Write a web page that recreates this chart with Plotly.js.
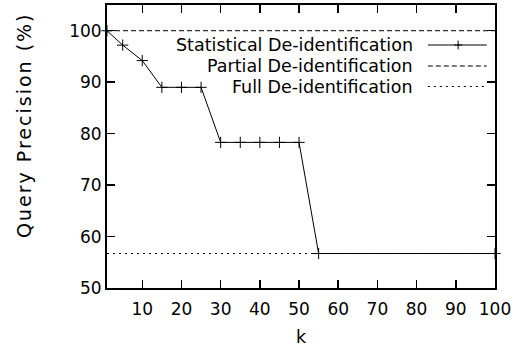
<!DOCTYPE html>
<html>
<head>
<meta charset="utf-8">
<script src="https://cdn.plot.ly/plotly-3.0.1.min.js"></script>
<style>
html,body{margin:0;padding:0;background:#fff;}
#chart{width:520px;height:350px;}
</style>
</head>
<body>
<div id="chart"></div>
<script>
const kValues = [1, 5, 10, 15, 20, 25, 30, 35, 40, 45, 50, 55, 100];
const statisticalPrecision = [100, 97.2, 94.2, 89.0, 89.0, 89.0, 78.3, 78.3, 78.3, 78.3, 78.3, 56.7, 56.7];
const partialK = [1, 100];
const partialPrecision = [100, 100];
const fullK = [1, 100];
const fullPrecision = [56.7, 56.7];
const seriesNames = ["Statistical De-identification", "Partial De-identification", "Full De-identification"];
const xTicks = [10, 20, 30, 40, 50, 60, 70, 80, 90, 100];
const yTicks = [50, 60, 70, 80, 90, 100];
const yTitle = "Query Precision (%)";
const xTitle = "k";

const FONT = "DejaVu Sans, sans-serif";

const traces = [
  {x: partialK, y: partialPrecision, mode: "lines", name: seriesNames[1],
   line: {color: "#000", width: 1, dash: "5px,3px"}},
  {x: fullK, y: fullPrecision, mode: "lines", name: seriesNames[2],
   line: {color: "#000", width: 1, dash: "2px,4px"}},
  {x: kValues, y: statisticalPrecision, mode: "lines+markers", name: seriesNames[0],
   line: {color: "#000", width: 1},
   marker: {symbol: "cross-thin", size: 8, line: {color: "#000", width: 1}}, cliponaxis: false}
];

// gnuplot-style key: text right-aligned, sample on the right
const rowsY = [0.8587, 0.7845, 0.712];
const textX = 0.794, s0 = 0.827, s1 = 0.979, pc = 0.905;
const annotations = seriesNames.map((n, i) => ({
  text: n, xref: "paper", yref: "paper", x: textX, y: rowsY[i],
  xanchor: "right", yanchor: "middle", showarrow: false,
  font: {family: FONT, size: 17.5, color: "#000"}
}));
annotations.push({
  text: yTitle, xref: "paper", yref: "paper", x: -0.214, y: 0.576,
  xanchor: "center", yanchor: "middle", showarrow: false, textangle: -90,
  font: {family: FONT, size: 19, color: "#000"}
});
const dashes = ["solid", "5px,3px", "2px,4px"];
const shapes = rowsY.map((y, i) => ({
  type: "line", xref: "paper", yref: "paper", x0: s0, x1: s1, y0: y, y1: y,
  line: {color: "#000", width: 1, dash: dashes[i]}
}));
shapes.push({type: "line", xref: "paper", yref: "paper", x0: pc - 0.0103, x1: pc + 0.0103, y0: rowsY[0], y1: rowsY[0], line: {color: "#000", width: 1}});
shapes.push({type: "line", xref: "paper", yref: "paper", x0: pc, x1: pc, y0: rowsY[0] - 0.0155, y1: rowsY[0] + 0.0155, line: {color: "#000", width: 1}});

const axisCommon = {
  showgrid: false, zeroline: false, showline: true, linecolor: "#000", linewidth: 2,
  mirror: "allticks", ticks: "inside", ticklen: 8, tickwidth: 1.5, tickcolor: "#000",
  tickfont: {family: FONT, size: 17, color: "#000"}
};

const layout = {
  width: 520, height: 350,
  margin: {l: 107, r: 25, t: 5, b: 62},
  paper_bgcolor: "#fff", plot_bgcolor: "#fff",
  showlegend: false,
  xaxis: Object.assign({}, axisCommon, {
    range: [1, 100], tickvals: xTicks, ticktext: xTicks.map(String),
    ticklabelstandoff: 5,
    title: {text: xTitle, font: {family: FONT, size: 17.5, color: "#000"}, standoff: 12}
  }),
  yaxis: Object.assign({}, axisCommon, {
    range: [50, 105], tickvals: yTicks, ticktext: yTicks.map(String)
  }),
  annotations: annotations,
  shapes: shapes
};

Plotly.newPlot("chart", traces, layout, {displayModeBar: false, staticPlot: true}).then(() => {
  document.querySelectorAll("#chart .annotation-text").forEach(t => {
    if (t.textContent === yTitle) t.style.letterSpacing = "2px";
  });
});
</script>
</body>
</html>
